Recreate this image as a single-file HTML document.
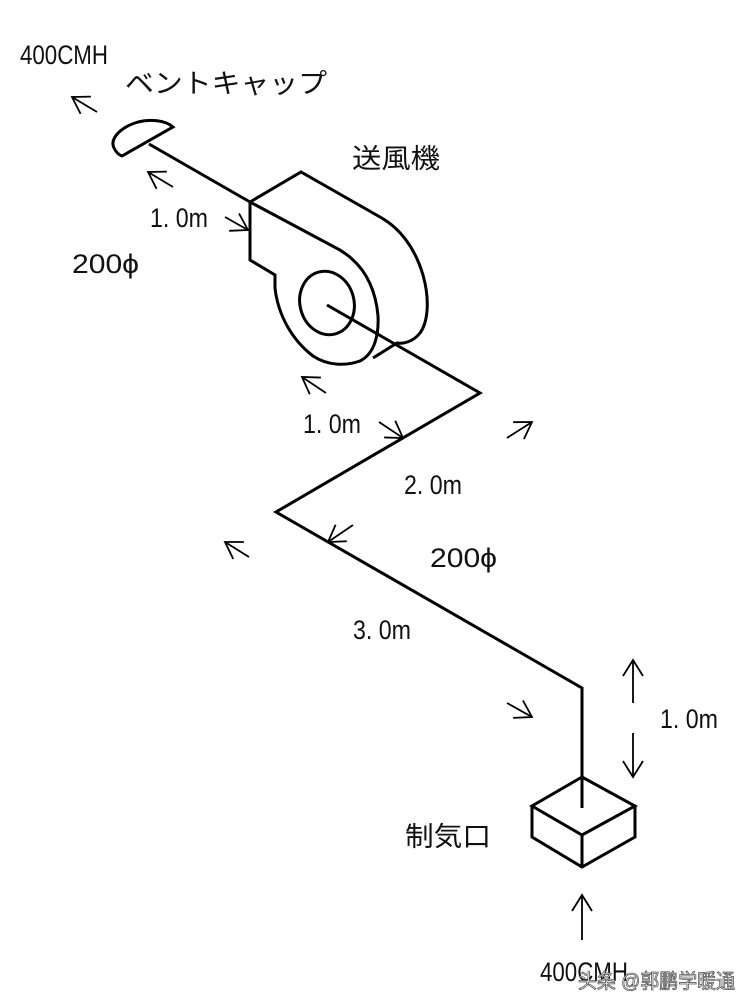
<!DOCTYPE html>
<html><head><meta charset="utf-8"><style>
html,body{margin:0;padding:0;background:#fff;width:750px;height:1006px;overflow:hidden}
svg text{font-family:"Liberation Sans","Noto Sans CJK JP",sans-serif;fill:#111}
</style></head><body>
<svg width="750" height="1006" viewBox="0 0 750 1006" xmlns="http://www.w3.org/2000/svg">
<defs>
<marker id="ah" markerUnits="userSpaceOnUse" markerWidth="30" markerHeight="30" refX="20" refY="15" orient="auto">
<path d="M4,5 L20,15 L4,25" fill="none" stroke="#000" stroke-width="1.8"/>
</marker>
</defs>
<rect width="750" height="1006" fill="#fff"/>
<g fill="none" stroke="#000" stroke-width="3" stroke-linejoin="miter" stroke-linecap="butt">
<path d="M122,156 L173,127 C165,120 150,119 138,122 C118,128 110,140 114,148 C116,152 119,155 122,156 Z"/>
<line x1="149" y1="144" x2="250" y2="202"/>
<path d="M250,202 L301,172 L380,217 C400,228 415,248 423,275 C430,300 428,322 420,333 C413,342 403,344 397,343 L373,358"/>
<path d="M250,202 L250,260 L275,275 L275,288 C278,315 292,340 313,356 C328,366 346,366 360,361 C374,354 379,336 378,316 C376,292 367,272 352,259 C348,255 344,253 340,250 L250,202"/>
<ellipse cx="327" cy="303" rx="27" ry="32" transform="rotate(-15 327 303)"/>
<polyline points="327,305 480,393 276,512 582,688 582,808"/>
<path d="M582,777 L532,806 L582,835 L635,806 Z"/>
<path d="M532,806 L532,837 L582,867 L635,837 L635,806"/>
<line x1="582" y1="835" x2="582" y2="867"/>
</g>
<g fill="none" stroke="#000" stroke-width="1.8" marker-end="url(#ah)">
<line x1="97" y1="112" x2="72" y2="97"/>
<line x1="173" y1="187" x2="148" y2="172"/>
<line x1="225" y1="217" x2="248" y2="230"/>
<line x1="326" y1="393" x2="302" y2="377"/>
<line x1="379" y1="422" x2="403" y2="438"/>
<line x1="507" y1="438" x2="532" y2="422"/>
<line x1="249" y1="557" x2="225" y2="542"/>
<line x1="353" y1="525" x2="328" y2="542"/>
<line x1="507" y1="703" x2="532" y2="717"/>
<line x1="633" y1="703" x2="633" y2="660"/>
<line x1="633" y1="733" x2="633" y2="777"/>
<line x1="582" y1="940" x2="582" y2="895"/>
</g>
<g font-size="27">
<text x="20" y="64" textLength="88" lengthAdjust="spacingAndGlyphs">400CMH</text>
<text x="150" y="227" textLength="58" lengthAdjust="spacingAndGlyphs">1. 0m</text>
<text x="72" y="273" textLength="67" lengthAdjust="spacingAndGlyphs">200ϕ</text>
<text x="303" y="433" textLength="58" lengthAdjust="spacingAndGlyphs">1. 0m</text>
<text x="404" y="494" textLength="58" lengthAdjust="spacingAndGlyphs">2. 0m</text>
<text x="430" y="567" textLength="67" lengthAdjust="spacingAndGlyphs">200ϕ</text>
<text x="353" y="639" textLength="58" lengthAdjust="spacingAndGlyphs">3. 0m</text>
<text x="660" y="728" textLength="58" lengthAdjust="spacingAndGlyphs">1. 0m</text>
<text x="540" y="981" textLength="88" lengthAdjust="spacingAndGlyphs">400CMH</text>
</g>
<g font-size="27">
<text x="125" y="93" textLength="202" lengthAdjust="spacingAndGlyphs">ベントキャップ</text>
<text x="352" y="168" textLength="88" lengthAdjust="spacingAndGlyphs">送風機</text>
<text x="405" y="846" textLength="86" lengthAdjust="spacingAndGlyphs">制気口</text>
</g>
<text x="578" y="988" font-size="20" textLength="157" lengthAdjust="spacingAndGlyphs" style="fill:#fff;stroke:#555;stroke-width:0.8">头条 @郭鹏学暖通</text>
</svg>
</body></html>
